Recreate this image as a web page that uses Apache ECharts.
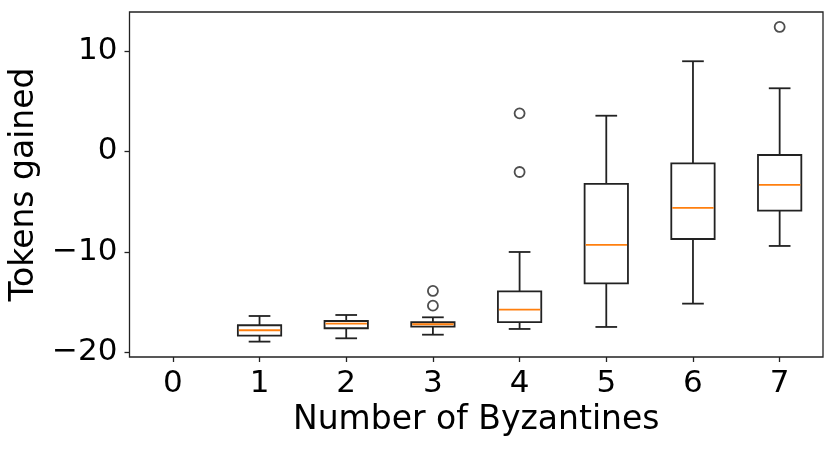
<!DOCTYPE html>
<html>
<head>
<meta charset="utf-8">
<script src="https://cdn.jsdelivr.net/npm/echarts@6/dist/echarts.min.js"></script>
<style>
html,body{margin:0;padding:0;background:#fff;}
#chart{width:831px;height:451px;}
</style>
</head>
<body>
<div id="chart"></div>
<script>
// ---- data ----
const categories = ['0', '1', '2', '3', '4', '5', '6', '7'];
const lowerWhisker = [null, -18.94, -18.61, -18.25, -17.68, -17.48, -15.16, -9.42];
const q1           = [null, -18.35, -17.61, -17.45, -16.99, -13.14, -8.73, -5.91];
const median       = [null, -17.81, -17.15, -17.21, -15.76, -9.32, -5.64, -3.35];
const q3           = [null, -17.31, -16.89, -17.01, -13.93, -3.25, -1.20, -0.37];
const upperWhisker = [null, -16.39, -16.29, -16.52, -10.02, 3.54, 8.96, 6.27];
const outlierCats  = ['3', '3', '4', '4', '7'];
const outlierVals  = [-13.9, -15.36, 3.78, -2.06, 12.37];
const yTicks = [-20, -10, 0, 10];

// ---- build series data ----
const boxData = [];
categories.forEach((c, i) => {
  if (median[i] === null) return;
  boxData.push([i, lowerWhisker[i], q1[i], median[i], q3[i], upperWhisker[i]]);
});
const outlierData = outlierCats.map((c, i) => [c, outlierVals[i]]);

const FONT = 'DejaVu Sans';
const chart = echarts.init(document.getElementById('chart'), null, {renderer: 'canvas'});
const minusFmt = v => String(v).replace('-', '\u2212');
const LW = 1.8;

chart.setOption({
  animation: false,
  backgroundColor: '#fff',
  grid: {left: 129.5, right: 8, top: 12, bottom: 94, show: true, borderColor: '#222', borderWidth: 1.3, backgroundColor: 'transparent'},
  xAxis: {
    type: 'category',
    data: categories,
    boundaryGap: true,
    axisLine: {show: false, onZero: false},
    axisTick: {show: true, alignWithLabel: true, length: 5, lineStyle: {color: '#222', width: 1.3}},
    axisLabel: {fontFamily: FONT, fontSize: 31, color: '#000', margin: 11},
    splitLine: {show: false},
    name: 'Number of Byzantines',
    nameLocation: 'middle',
    nameGap: 46,
    nameTextStyle: {fontFamily: FONT, fontSize: 33, color: '#000'}
  },
  yAxis: {
    type: 'value',
    min: -20.47,
    max: 13.86,
    axisLine: {show: false, onZero: false},
    axisTick: {show: true, length: 5, customValues: yTicks, lineStyle: {color: '#222', width: 1.3}},
    axisLabel: {fontFamily: FONT, fontSize: 31, color: '#000', margin: 12, customValues: yTicks, formatter: minusFmt},
    splitLine: {show: false},
    name: 'Tokens gained',
    nameLocation: 'middle',
    nameGap: 80,
    nameRotate: 90,
    nameTextStyle: {fontFamily: FONT, fontSize: 33, color: '#000'}
  },
  series: [
    {
      type: 'custom',
      data: boxData,
      encode: {x: 0, y: [1, 2, 3, 4, 5]},
      renderItem: function (params, api) {
        const x = api.value(0);
        const band = api.size([1, 0])[0];
        const bw = band * 0.5;
        const cw = bw * 0.5;
        const pLo = api.coord([x, api.value(1)]);
        const pQ1 = api.coord([x, api.value(2)]);
        const pMed = api.coord([x, api.value(3)]);
        const pQ3 = api.coord([x, api.value(4)]);
        const pHi = api.coord([x, api.value(5)]);
        const cx = pMed[0];
        const ls = {stroke: '#222', lineWidth: LW, fill: null};
        return {
          type: 'group',
          children: [
            {type: 'line', shape: {x1: cx, y1: pQ1[1], x2: cx, y2: pLo[1]}, style: ls},
            {type: 'line', shape: {x1: cx, y1: pQ3[1], x2: cx, y2: pHi[1]}, style: ls},
            {type: 'line', shape: {x1: cx - cw / 2, y1: pLo[1], x2: cx + cw / 2, y2: pLo[1]}, style: ls},
            {type: 'line', shape: {x1: cx - cw / 2, y1: pHi[1], x2: cx + cw / 2, y2: pHi[1]}, style: ls},
            {type: 'rect', shape: {x: cx - bw / 2, y: pQ3[1], width: bw, height: pQ1[1] - pQ3[1]}, style: {stroke: '#222', lineWidth: LW, fill: null}},
            {type: 'line', shape: {x1: cx - bw / 2 + 1, y1: pMed[1], x2: cx + bw / 2 - 1, y2: pMed[1]}, style: {stroke: '#ff7f0e', lineWidth: LW}}
          ]
        };
      },
      z: 3
    },
    {
      type: 'scatter',
      data: outlierData,
      symbol: 'circle',
      symbolSize: 10,
      itemStyle: {color: 'transparent', borderColor: '#222', borderWidth: LW},
      z: 4
    }
  ]
});
</script>
</body>
</html>
